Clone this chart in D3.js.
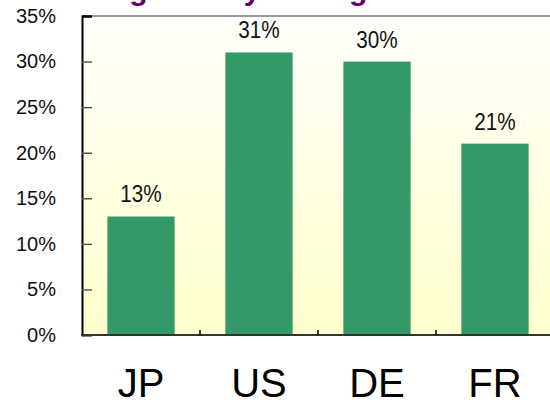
<!DOCTYPE html>
<html>
<head>
<meta charset="utf-8">
<script src="https://cdn.jsdelivr.net/npm/d3@7"></script>
<style>
  html, body { margin: 0; padding: 0; background: #ffffff; }
  svg { display: block; font-family: "Liberation Sans", Arial, sans-serif; }
</style>
</head>
<body>
<svg id="chart" width="550" height="405"></svg>
<script>
// Share by country
const categories = ["JP", "US", "DE", "FR"];
const values = [13, 31, 30, 21];
const yTicks = [0, 5, 10, 15, 20, 25, 30, 35];
const titleText = "Average Yearly Savings";

const svg = d3.select("#chart");
const plot = { left: 82, top: 16, right: 554, bottom: 335 };

const x = d3.scaleBand()
  .domain(categories)
  .range([plot.left, plot.right])
  .paddingInner(0.43)
  .paddingOuter(0.215);

const y = d3.scaleLinear()
  .domain([0, 35])
  .range([plot.bottom, plot.top]);

// Background gradient of the plot area
const defs = svg.append("defs");
const grad = defs.append("linearGradient")
  .attr("id", "bg").attr("x1", 0).attr("y1", 0).attr("x2", 0).attr("y2", 1);
grad.append("stop").attr("offset", "0%").attr("stop-color", "#fffffb");
grad.append("stop").attr("offset", "100%").attr("stop-color", "#ffffcc");

svg.append("rect")
  .attr("x", plot.left).attr("y", plot.top)
  .attr("width", plot.right - plot.left + 10)
  .attr("height", plot.bottom - plot.top)
  .attr("fill", "url(#bg)");

// Top border
svg.append("line")
  .attr("x1", plot.left).attr("x2", 560)
  .attr("y1", plot.top).attr("y2", plot.top)
  .attr("stroke", "#999").attr("stroke-width", 2);

// Title (sits above the visible area; only descenders show)
svg.append("text")
  .attr("x", 47).attr("y", 0)
  .attr("font-size", 30).attr("font-weight", "bold")
  .attr("fill", "#660066")
  .text(titleText);

// Bars
svg.append("g").selectAll("rect")
  .data(values)
  .join("rect")
  .attr("x", (d, i) => x(categories[i]))
  .attr("y", d => y(d))
  .attr("width", x.bandwidth())
  .attr("height", d => y(0) - y(d))
  .attr("fill", "#339966");

// Value labels
svg.append("g").selectAll("text")
  .data(values)
  .join("text")
  .attr("x", (d, i) => x(categories[i]) + x.bandwidth() / 2)
  .attr("y", d => y(d) - 14)
  .attr("text-anchor", "middle")
  .attr("font-size", 23)
  .attr("fill", "#111")
  .attr("transform", (d, i) => {
    const cx = x(categories[i]) + x.bandwidth() / 2;
    return `translate(${cx},0) scale(0.9,1) translate(${-cx},0)`;
  })
  .text(d => d + "%");

// Y axis
const yAxis = d3.axisLeft(y)
  .tickValues(yTicks)
  .tickFormat(d => d + "%")
  .tickSize(-10)
  .tickPadding(26);
const yg = svg.append("g")
  .attr("transform", `translate(${plot.left},0)`)
  .call(yAxis);
yg.select(".domain").attr("stroke", "#000").attr("stroke-width", 2);
yg.selectAll(".tick line").attr("stroke", "#555").attr("stroke-width", 1.5);
yg.selectAll(".tick").filter(d => d === 0).select("line").remove();
yg.selectAll(".tick").filter(d => d === 35).select("line").attr("stroke", "#000").attr("stroke-width", 2);
yg.selectAll(".tick text")
  .attr("font-size", 20)
  .attr("font-family", "Liberation Sans, Arial, sans-serif")
  .attr("fill", "#111");

// X axis: ticks at band boundaries, big category labels
const xg = svg.append("g");
xg.append("line")
  .attr("x1", plot.left - 1).attr("x2", 560)
  .attr("y1", plot.bottom).attr("y2", plot.bottom)
  .attr("stroke", "#333").attr("stroke-width", 2);
const step = x.step();
xg.selectAll("line.bound")
  .data(categories.slice(1))
  .join("line")
  .attr("class", "bound")
  .attr("x1", d => x(d) - step * x.paddingInner() / 2)
  .attr("x2", d => x(d) - step * x.paddingInner() / 2)
  .attr("y1", plot.bottom).attr("y2", plot.bottom - 5)
  .attr("stroke", "#000").attr("stroke-width", 1.5);
xg.selectAll("text")
  .data(categories)
  .join("text")
  .attr("x", d => x(d) + x.bandwidth() / 2)
  .attr("y", 397)
  .attr("text-anchor", "middle")
  .attr("font-size", 40)
  .attr("fill", "#000")
  .text(d => d);
</script>
</body>
</html>
